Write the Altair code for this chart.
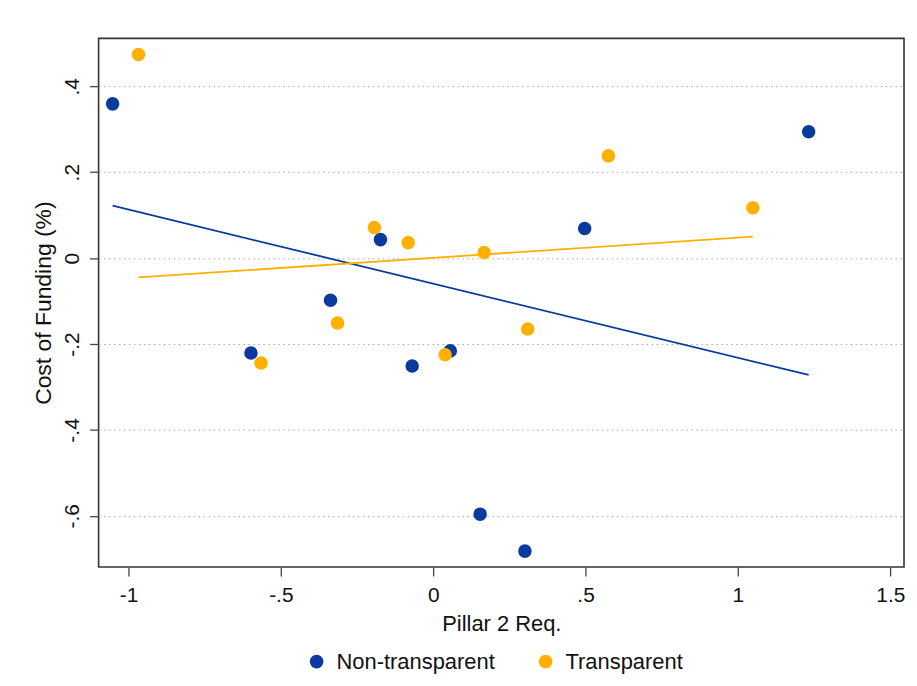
import altair as alt
import pandas as pd

groups = ["Non-transparent", "Transparent"]

# Scatter points
nt_x = [-1.052, -0.598, -0.337, -0.173, -0.069, 0.056, 0.154, 0.301, 0.497, 1.232]
nt_y = [0.359, -0.221, -0.098, 0.043, -0.251, -0.216, -0.596, -0.682, 0.069, 0.294]
tr_x = [-0.967, -0.565, -0.314, -0.193, -0.082, 0.039, 0.167, 0.310, 0.575, 1.049]
tr_y = [0.474, -0.244, -0.151, 0.071, 0.036, -0.225, 0.013, -0.165, 0.238, 0.117]

# Fitted line endpoints
nt_fit_x = [-1.052, 1.232]
nt_fit_y = [0.122, -0.272]
tr_fit_x = [-0.967, 1.049]
tr_fit_y = [-0.045, 0.050]

x_ticks = [-1, -0.5, 0, 0.5, 1, 1.5]
y_ticks = [-0.6, -0.4, -0.2, 0, 0.2, 0.4]

pts = pd.DataFrame({
    "x": nt_x + tr_x,
    "y": nt_y + tr_y,
    "group": [groups[0]] * len(nt_x) + [groups[1]] * len(tr_x),
})
fit = pd.DataFrame({
    "x": nt_fit_x + tr_fit_x,
    "y": nt_fit_y + tr_fit_y,
    "group": [groups[0]] * 2 + [groups[1]] * 2,
})

FONT = "Liberation Sans"
colors = ["#0a3a9e", "#ffb000"]
label_expr = ("datum.value < 0 ? '-' + replace(format(-datum.value, '.1~f'), '0.', '.') "
              ": replace(format(datum.value, '.1~f'), '0.', '.')")

xs = alt.Scale(domain=[-1.098, 1.545], nice=False, zero=False)
ys = alt.Scale(domain=[-0.719, 0.5115], nice=False, zero=False)

x_axis = alt.Axis(
    values=x_ticks, labelExpr=label_expr, grid=False, domain=False,
    tickSize=9, tickColor="#444", tickWidth=1.3, labelFontSize=21, labelPadding=9,
    labelColor="#111", title="Pillar 2 Req.", titleFontSize=22,
    titleFontWeight="normal", titleColor="#111", titlePadding=8,
    labelFont=FONT, titleFont=FONT,
)
y_axis = alt.Axis(
    values=y_ticks, labelExpr=label_expr, grid=True, gridDash=[1.5, 3.5],
    gridColor="#a8a8a8", gridWidth=1, domain=False,
    tickSize=9, tickColor="#444", tickWidth=1.3, labelFontSize=21, labelAngle=270,
    labelAlign="center", labelBaseline="bottom", labelPadding=7,
    labelColor="#111", title="Cost of Funding (%)", titleFontSize=23,
    titleFontWeight="normal", titleColor="#111", titlePadding=6,
    labelFont=FONT, titleFont=FONT,
)

lines = alt.Chart(fit).mark_line(strokeWidth=1.8).encode(
    x=alt.X("x:Q", scale=xs, axis=x_axis),
    y=alt.Y("y:Q", scale=ys, axis=y_axis),
    stroke=alt.Stroke("group:N", scale=alt.Scale(domain=groups, range=colors), legend=None),
    detail="group:N",
)

points = alt.Chart(pts).mark_circle(size=185, opacity=1).encode(
    x=alt.X("x:Q", scale=xs, axis=x_axis),
    y=alt.Y("y:Q", scale=ys, axis=y_axis),
    color=alt.Color(
        "group:N",
        scale=alt.Scale(domain=groups, range=colors),
        legend=alt.Legend(
            title=None, orient="none", legendX=208, legendY=615,
            direction="horizontal", symbolType="circle", symbolSize=190,
            symbolOpacity=1, labelFontSize=22, labelFont=FONT, labelColor="#111",
            labelOffset=9, columnPadding=40, symbolStrokeWidth=0,
        ),
    ),
)

chart = alt.layer(lines, points).resolve_scale(
    color="independent", stroke="independent"
).properties(
    width=809, height=531,
    autosize=alt.AutoSizeParams(type="none"),
    padding={"left": 91, "top": 29, "right": 5, "bottom": 107},
).configure(
    background="white",
    view=alt.ViewConfig(stroke="#333", strokeWidth=1.6),
)

chart.save("out.html", embed_options={"renderer": "svg", "actions": False})
